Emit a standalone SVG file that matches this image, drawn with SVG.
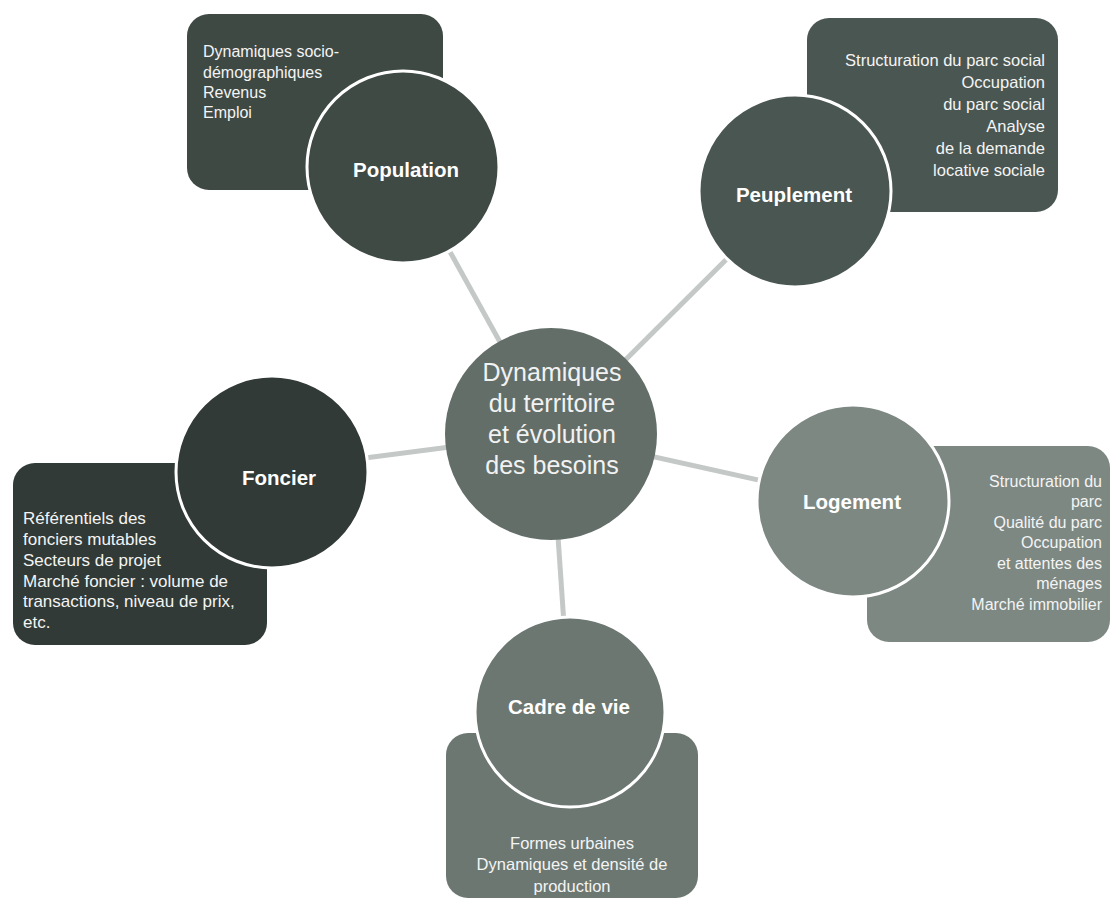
<svg xmlns="http://www.w3.org/2000/svg" width="1111" height="903" viewBox="0 0 1111 903">
<style>
.bg{fill:#ffffff}
.conn{stroke:#c4c8c7;stroke-width:5;fill:none;stroke-linecap:butt}
.circ{stroke:#ffffff;stroke-width:3}
.lbl{font-family:"Liberation Sans",Arial,sans-serif;font-weight:bold;font-size:20.5px;fill:#ffffff;text-anchor:middle}
.body{font-family:"Liberation Sans",Arial,sans-serif;fill:#f4f4f4}
.ctr{font-family:"Liberation Sans",Arial,sans-serif;font-size:25px;fill:#f2f2f2;text-anchor:middle}
</style>
<rect class="bg" x="0" y="0" width="1111" height="903"/>
<g id="connectors">
<line class="conn" x1="551" y1="434" x2="403" y2="167"/>
<line class="conn" x1="551" y1="434" x2="795" y2="191"/>
<line class="conn" x1="551" y1="434" x2="272" y2="470"/>
<line class="conn" x1="551" y1="434" x2="853" y2="501"/>
<line class="conn" x1="551" y1="434" x2="570" y2="712"/>
</g>
<g id="population">
<rect x="187" y="14" width="256" height="176" rx="22" fill="#3e4944"/>
<text class="body" font-size="16px" x="203" y="57">Dynamiques socio-</text>
<text class="body" font-size="16px" x="203" y="78">démographiques</text>
<text class="body" font-size="16px" x="203" y="98">Revenus</text>
<text class="body" font-size="16px" x="203" y="118">Emploi</text>
<circle class="circ" cx="403" cy="167" r="96" fill="#3f4a45"/>
<text class="lbl" x="406" y="177">Population</text>
</g>
<g id="peuplement">
<rect x="807" y="18" width="251" height="194" rx="22" fill="#4a5651"/>
<g class="body" font-size="16.5px" text-anchor="end">
<text x="1045" y="66">Structuration du parc social</text>
<text x="1045" y="88">Occupation</text>
<text x="1045" y="110">du parc social</text>
<text x="1045" y="132">Analyse</text>
<text x="1045" y="154">de la demande</text>
<text x="1045" y="176">locative sociale</text>
</g>
<circle class="circ" cx="795" cy="191" r="96" fill="#4a5651"/>
<text class="lbl" x="794" y="202">Peuplement</text>
</g>
<g id="foncier">
<rect x="13" y="463" width="254" height="182" rx="22" fill="#313a36"/>
<g class="body" font-size="17px">
<text x="23" y="524">Référentiels des</text>
<text x="23" y="545">fonciers mutables</text>
<text x="23" y="566">Secteurs de projet</text>
<text x="23" y="587">Marché foncier : volume de</text>
<text x="23" y="607">transactions, niveau de prix,</text>
<text x="23" y="628">etc.</text>
</g>
<circle class="circ" cx="272" cy="472" r="96" fill="#313a36"/>
<text class="lbl" x="279" y="485">Foncier</text>
</g>
<g id="logement">
<rect x="867" y="446" width="243" height="196" rx="22" fill="#7d8883"/>
<g class="body" font-size="16px" text-anchor="end">
<text x="1102" y="487">Structuration du</text>
<text x="1102" y="507">parc</text>
<text x="1102" y="528">Qualité du parc</text>
<text x="1102" y="548">Occupation</text>
<text x="1102" y="569">et attentes des</text>
<text x="1102" y="589">ménages</text>
<text x="1102" y="610">Marché immobilier</text>
</g>
<circle class="circ" cx="853" cy="501" r="96" fill="#7d8883"/>
<text class="lbl" x="852" y="509">Logement</text>
</g>
<g id="cadre">
<rect x="446" y="733" width="252" height="165" rx="22" fill="#6c7772"/>
<g class="body" font-size="16.5px" text-anchor="middle">
<text x="572" y="849">Formes urbaines</text>
<text x="572" y="870">Dynamiques et densité de</text>
<text x="572" y="892">production</text>
</g>
<circle class="circ" cx="570" cy="712" r="95" fill="#6c7772"/>
<text class="lbl" x="569" y="714">Cadre de vie</text>
</g>
<g id="centre">
<circle cx="551" cy="434" r="106" fill="#636e69"/>
<text class="ctr" x="552" y="381">Dynamiques</text>
<text class="ctr" x="552" y="412">du territoire</text>
<text class="ctr" x="552" y="443">et évolution</text>
<text class="ctr" x="552" y="474">des besoins</text>
</g>
</svg>
